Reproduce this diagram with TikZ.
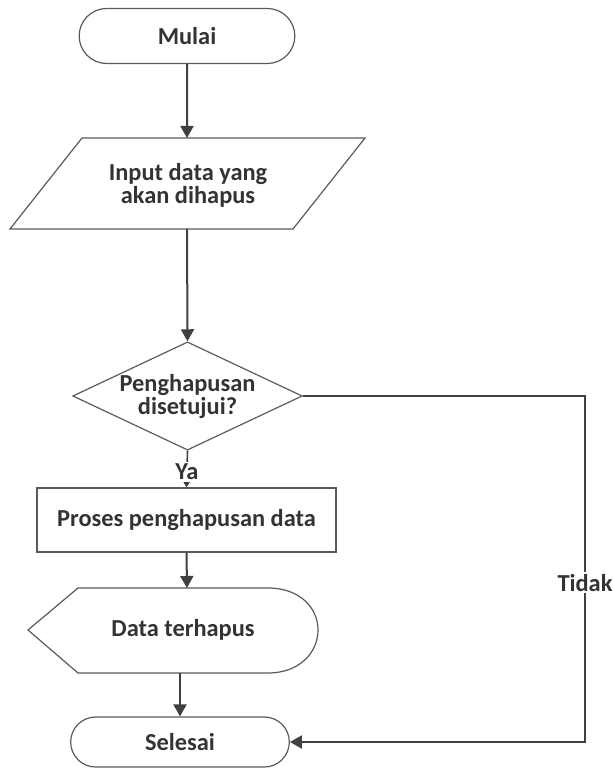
\documentclass[tikz,border=0pt]{standalone}
\usepackage{fontspec}
\setmainfont{Carlito}
\usetikzlibrary{shapes.geometric,shapes.misc,arrows.meta,positioning}

\definecolor{linegray}{HTML}{404040}
\definecolor{boxgray}{HTML}{5A5A5A}
\definecolor{textgray}{HTML}{333333}

\begin{document}
\begin{tikzpicture}[x=0.5pt,y=-0.5pt,
	font=\fontsize{12.2}{11.5}\selectfont\bfseries,
	box/.style={draw=boxgray, line width=0.6pt, text=textgray, align=center},
	terminal/.style={box, rounded rectangle, minimum width=114.5pt, minimum height=27.5pt},
	decision/.style={box, diamond, aspect=2.12, minimum width=114.5pt, minimum height=54pt, inner sep=0pt},
	process/.style={box, rectangle, minimum width=149.5pt, minimum height=32pt},
	txt/.style={text=textgray, align=center},
	flow/.style={draw=linegray, line width=1pt, -{Triangle[width=6.5pt,length=6pt]}},
	smallflow/.style={draw=linegray, line width=0.8pt, -{Triangle[width=3.5pt,length=3pt]}},
	lbl/.style={fill=white, text=textgray, inner sep=1pt}
	]
	
	\useasboundingbox (0,0) rectangle (612,769);
	
	% ---- Flow nodes ----
	\node[terminal] (start) at (187,36) {Mulai};
	
	% input (parallelogram)
	\draw[box] (82,138) -- (365,138) -- (293,229) -- (10,229) -- cycle;
	\node[txt] (input) at (188,185) {Input data yang\\akan dihapus};
	\coordinate (inTop) at (187,138);
	\coordinate (inBot) at (187,229);
	
	\node[decision] (decide) at (187.5,396) {Penghapusan\\disetujui?};
	\node[process] (proc) at (186.5,520) {Proses penghapusan data};
	
	% output (display)
	\draw[box] (28,630) -- (78,588) -- (268,588)
		.. controls (300,588) and (318,608) .. (318,630)
		.. controls (318,652) and (300,673) .. (268,673) -- (78,673) -- cycle;
	\node[txt] (disp) at (183,630) {Data terhapus};
	\coordinate (dispTop) at (187,588);
	\coordinate (dispBot) at (180,673);
	
	\node[terminal, minimum width=116pt, minimum height=25pt] (end) at (180,742) {Selesai};
	\coordinate (turn) at (585,742);
	
	% ---- Connectors ----
	\draw[flow] (start) -- (inTop);
	\draw[flow] (inBot) -- (decide.north);
	\draw[smallflow] (decide.south) -- node[lbl, pos=0.58] {Ya} (proc.north);
	\draw[flow] (proc.south) -- (dispTop);
	\draw[flow] (dispBot) -- (end.north);
	\draw[flow] (decide.east) -| node[lbl, pos=0.77] {Tidak} (turn) -- (end.east);
	
\end{tikzpicture}
\end{document}
